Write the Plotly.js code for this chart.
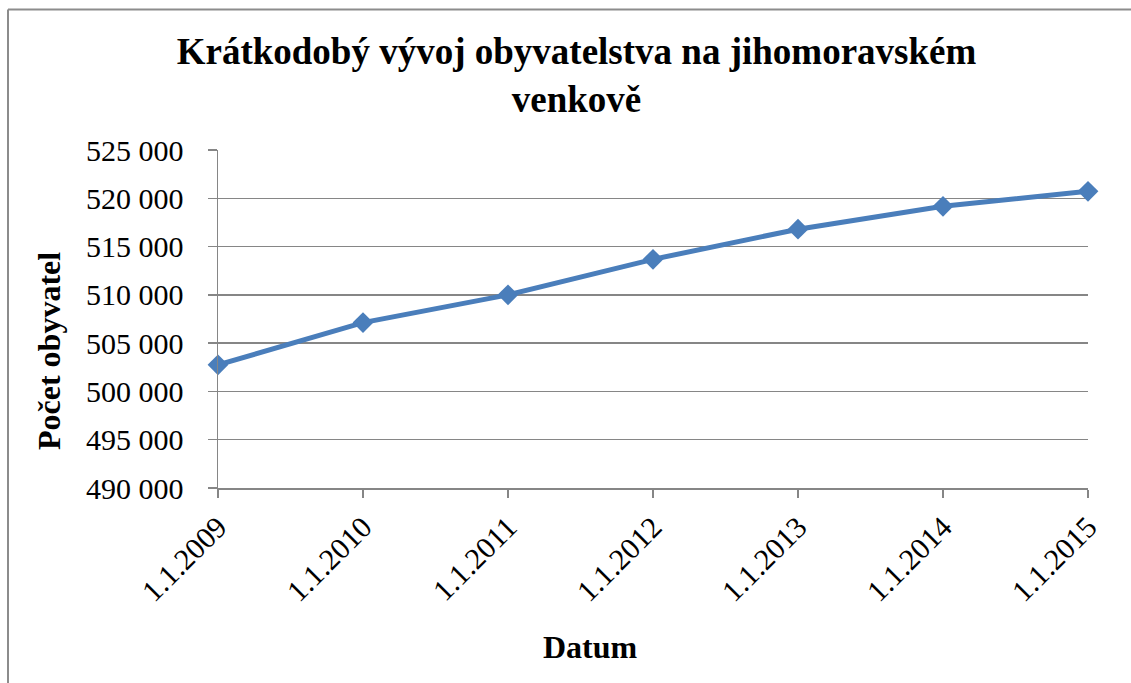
<!DOCTYPE html>
<html>
<head>
<meta charset="utf-8">
<script src="https://cdn.plot.ly/plotly-3.0.1.min.js"></script>
<style>
  html, body { margin: 0; padding: 0; background: #ffffff; }
  #chart { width: 1131px; height: 683px; }
</style>
</head>
<body>
<div id="chart"></div>
<script>
// Data
const dates = ["1.1.2009", "1.1.2010", "1.1.2011", "1.1.2012", "1.1.2013", "1.1.2014", "1.1.2015"];
const population = [502750, 507130, 510000, 513680, 516800, 519170, 520720];
const yTickValues = [490000, 495000, 500000, 505000, 510000, 515000, 520000, 525000];

const chartTitle = "Krátkodobý vývoj obyvatelstva na jihomoravském<br>venkově";
const xTitle = "Datum";
const yTitle = "Počet obyvatel";

const FONT = "Liberation Serif";
const GRID = "#868686";
const BLUE = "#4a7ebb";

const trace = {
  type: "scatter",
  mode: "lines+markers",
  x: dates,
  y: population,
  line: { color: BLUE, width: 5 },
  marker: { symbol: "diamond", size: 16, color: BLUE },
  cliponaxis: false,
  hoverinfo: "x+y"
};

const frameLeft = (8 - 218) / 870;
const frameTop = 1 + (150 - 9.5) / 338;

const layout = {
  width: 1131,
  height: 683,
  paper_bgcolor: "#ffffff",
  plot_bgcolor: "#ffffff",
  separators: ", ",
  showlegend: false,
  margin: { l: 218, r: 43, t: 150, b: 195 },
  font: { family: FONT, color: "#000000" },
  title: {
    text: chartTitle,
    font: { family: FONT, size: 37, color: "#000000", weight: "bold" },
    x: (173 + 980) / 2 / 1131,
    xanchor: "center",
    y: 1 - 64 / 683,
    yanchor: "top",
    yref: "container"
  },
  xaxis: {
    type: "category",
    range: [0, 6],
    showgrid: false,
    showline: true,
    linecolor: GRID,
    linewidth: 1.5,
    ticks: "outside",
    ticklen: 8,
    tickwidth: 1.5,
    tickcolor: GRID,
    tickangle: -45,
    tickfont: { family: FONT, size: 30, color: "#000000" },
    zeroline: false,
    fixedrange: true
  },
  yaxis: {
    range: [490000, 525000],
    tickvals: yTickValues,
    tickformat: ",d",
    showgrid: true,
    gridcolor: GRID,
    gridwidth: 1.5,
    showline: true,
    linecolor: GRID,
    linewidth: 1.5,
    ticks: "outside",
    ticklen: 9,
    tickwidth: 1.5,
    tickcolor: GRID,
    ticklabelstandoff: 18,
    tickfont: { family: FONT, size: 30, color: "#000000" },
    zeroline: false,
    fixedrange: true
  },
  annotations: [
    {
      text: xTitle,
      xref: "paper", yref: "paper",
      x: (590 - 218) / 870, y: (488 - 647) / 338,
      xanchor: "center", yanchor: "middle",
      showarrow: false,
      font: { family: FONT, size: 32, color: "#000000", weight: "bold" }
    },
    {
      text: yTitle,
      xref: "paper", yref: "paper",
      x: (49 - 218) / 870, y: (488 - 351) / 338,
      xanchor: "center", yanchor: "middle",
      textangle: -90,
      showarrow: false,
      font: { family: FONT, size: 32, color: "#000000", weight: "bold" }
    }
  ],
  shapes: [
    {
      type: "line",
      xref: "paper", yref: "paper",
      x0: frameLeft, x1: 1.3,
      y0: frameTop, y1: frameTop,
      line: { color: "#8c8c8c", width: 2 },
      layer: "below"
    },
    {
      type: "line",
      xref: "paper", yref: "paper",
      x0: frameLeft, x1: frameLeft,
      y0: frameTop, y1: -0.8,
      line: { color: "#8c8c8c", width: 2 },
      layer: "below"
    }
  ]
};

Plotly.newPlot("chart", [trace], layout, { displayModeBar: false, staticPlot: true });
</script>
</body>
</html>
